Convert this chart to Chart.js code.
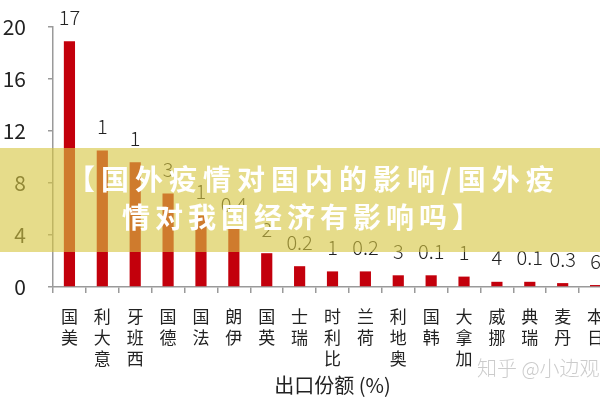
<!DOCTYPE html>
<html><head><meta charset="utf-8">
<script src="https://cdn.jsdelivr.net/npm/chart.js@4.4.1/dist/chart.umd.min.js"></script>
<style>
html,body{margin:0;padding:0;background:#fff;overflow:hidden;width:600px;height:400px}
#wrap{position:absolute;left:0;top:0;width:612px;height:400px}
canvas{display:block}
</style></head>
<body><div id="wrap"><canvas id="c" width="612" height="400"></canvas></div>
<script>
const categories = ['美国','意大利','西班牙','德国','法国','伊朗','英国','瑞士','比利时','荷兰','奥地利','韩国','加拿大','挪威','瑞典','丹麦','日本'];
const shareValues = [18.9,10.5,9.6,7.2,5.5,4.5,2.6,1.6,1.2,1.2,0.9,0.9,0.8,0.4,0.4,0.3,0.15];
const valueLabels = ['17','1','1','3','1','0.4','2','0.2','1','0.2','3','0.1','1','4','0.1','0.3','6'];
const yTicks = [0,4,8,12,16,20];
const xTitle = '出口份额 (%)';
const bannerLines = ['【国外疫情对国内的影响/国外疫','情对我国经济有影响吗】'];
const watermark = '知乎 @小边观';

const FONT = "'Noto Sans CJK SC', 'Noto Sans', sans-serif";

function drawSpaced(ctx, text, x, y, spacing){
  for (const ch of text){
    ctx.fillText(ch, x, y);
    x += ctx.measureText(ch).width + spacing;
  }
}

const labelsPlugin = {
  id:'vlabels',
  afterDatasetsDraw(chart){
    const ctx = chart.ctx;
    const meta = chart.getDatasetMeta(0);
    ctx.save();
    ctx.font = `300 20px ${FONT}`;
    ctx.fillStyle = '#222';
    ctx.textAlign = 'center';
    ctx.textBaseline = 'middle';
    meta.data.forEach((bar,i)=>{ ctx.fillText(valueLabels[i], bar.x, bar.y - 24); });
    ctx.restore();
  }
};

const bannerPlugin = {
  id:'banner',
  afterDraw(chart){
    const ctx = chart.ctx;
    ctx.save();
    ctx.font = `300 20px ${FONT}`;
    ctx.fillStyle = 'rgba(160,160,160,0.55)';
    ctx.textAlign = 'left';
    ctx.textBaseline = 'middle';
    ctx.fillText(watermark, 477, 368);
    ctx.fillStyle = 'rgba(214,198,66,0.62)';
    ctx.fillRect(0, 148, chart.width, 104);
    ctx.fillStyle = '#ffffff';
    ctx.font = `bold 28px ${FONT}`;
    drawSpaced(ctx, bannerLines[0], 67, 179, 6);
    drawSpaced(ctx, bannerLines[1], 122, 217, 5);
    ctx.restore();
  }
};

new Chart(document.getElementById('c').getContext('2d'), {
  type:'bar',
  data:{
    labels: categories,
    datasets:[{data: shareValues, backgroundColor:'#c3000c', barPercentage:0.34, categoryPercentage:1}]
  },
  options:{
    responsive:false, animation:false, devicePixelRatio:1,
    layout:{padding:{top:27,left:0,right:0,bottom:0}},
    plugins:{legend:{display:false}, tooltip:{enabled:false}},
    scales:{
      x:{
        grid:{display:true, drawOnChartArea:false, drawTicks:true, tickLength:6, color:'#9a9a9a', lineWidth:1.5},
        border:{display:true, color:'#9a9a9a', width:1.5},
        ticks:{autoSkip:false, maxRotation:0, minRotation:0, padding:13, color:'#222',
          font:{family:FONT, size:17, lineHeight:1.24},
          callback:(v,i)=>categories[i].split('').reverse()},
        title:{display:true, text:xTitle, color:'#222', font:{family:FONT, size:20}, padding:{top:0,bottom:3}},
        afterFit:(s)=>{ s.height = 113; s.paddingLeft = 0; s.paddingRight = 0; }
      },
      y:{
        min:0, max:20,
        afterBuildTicks:(s)=>{ s.ticks = yTicks.map(v=>({value:v})); },
        ticks:{padding:22, color:'#222', font:{family:FONT, size:21}},
        grid:{drawOnChartArea:false, drawTicks:true, tickLength:5, color:'#9a9a9a', lineWidth:1.5},
        border:{display:true, color:'#9a9a9a', width:1.5},
        afterFit:(s)=>{ s.width = 53; s.paddingTop = 0; s.paddingBottom = 0; }
      }
    }
  },
  plugins:[labelsPlugin, bannerPlugin]
});
</script>
</body></html>
